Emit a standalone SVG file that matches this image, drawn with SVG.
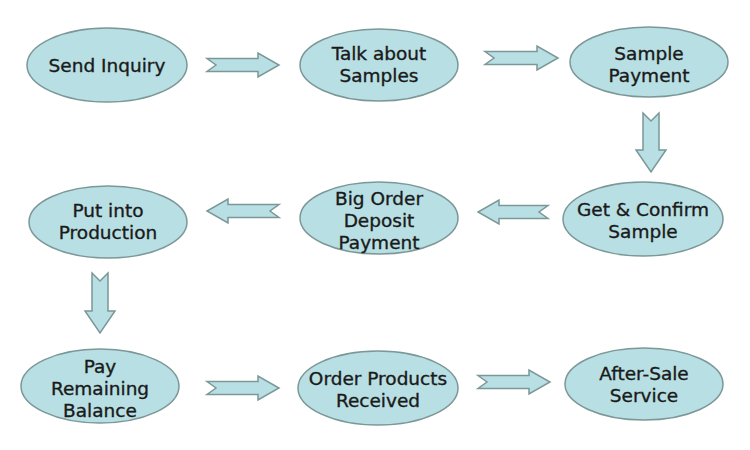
<svg xmlns="http://www.w3.org/2000/svg" width="750" height="450" viewBox="0 0 750 450">
<style>
.n ellipse{fill:#b8dfe3;stroke:#7b9797;stroke-width:1.5}
.n text{font-family:"DejaVu Sans",Verdana,sans-serif;font-size:18.5px;fill:#1a1a1a;stroke:#1a1a1a;stroke-width:0.35;text-anchor:middle}
.a path{fill:#b8dfe3;stroke:#7b9797;stroke-width:1.5;stroke-linejoin:miter}
</style>
<rect width="750" height="450" fill="#fff"/>
<g id="connectors" class="a">
<path d="M207,58.5 L258,58.5 L258,53 L279,65 L258,77 L258,71.5 L207,71.5 L216,65 Z"/>
<path d="M485,51.5 L537,51.5 L537,46 L558,58 L537,70 L537,64.5 L485,64.5 L494,58 Z"/>
<path d="M643,113 L643,150 L636,150 L651,172 L666,150 L659,150 L659,113 L651,121 Z"/>
<path d="M548,205.5 L499,205.5 L499,200 L478,212 L499,224 L499,218.5 L548,218.5 L539,212 Z"/>
<path d="M279,204.5 L228,204.5 L228,199 L207,211 L228,223 L228,217.5 L279,217.5 L270,211 Z"/>
<path d="M92,273 L92,311 L85,311 L100,333 L115,311 L108,311 L108,273 L100,281 Z"/>
<path d="M207,381.5 L258,381.5 L258,376 L279,388 L258,400 L258,394.5 L207,394.5 L216,388 Z"/>
<path d="M478,375.5 L529,375.5 L529,370 L550,382 L529,394 L529,388.5 L478,388.5 L487,382 Z"/>
</g>
<g id="n1" class="n"><ellipse cx="107" cy="65" rx="80" ry="37"/><text x="107" y="72">Send Inquiry</text></g>
<g id="n2" class="n"><ellipse cx="379" cy="65" rx="79" ry="36"/><text x="379" y="60">Talk about</text><text x="379" y="82">Samples</text></g>
<g id="n3" class="n"><ellipse cx="649" cy="62" rx="79" ry="35"/><text x="649" y="60">Sample</text><text x="649" y="82">Payment</text></g>
<g id="n4" class="n"><ellipse cx="643" cy="219" rx="80" ry="37"/><text x="643" y="216">Get &amp; Confirm</text><text x="643" y="238">Sample</text></g>
<g id="n5" class="n"><ellipse cx="379" cy="218" rx="79" ry="36"/><text x="379" y="205">Big Order</text><text x="379" y="227">Deposit</text><text x="379" y="249">Payment</text></g>
<g id="n6" class="n"><ellipse cx="108" cy="222" rx="79" ry="36"/><text x="108" y="217">Put into</text><text x="108" y="239">Production</text></g>
<g id="n7" class="n"><ellipse cx="100" cy="386" rx="79" ry="37"/><text x="100" y="373">Pay</text><text x="100" y="395">Remaining</text><text x="100" y="417">Balance</text></g>
<g id="n8" class="n"><ellipse cx="378" cy="388" rx="80" ry="37"/><text x="378" y="385">Order Products</text><text x="378" y="407">Received</text></g>
<g id="n9" class="n"><ellipse cx="644" cy="384" rx="79" ry="36"/><text x="644" y="380">After-Sale</text><text x="644" y="402">Service</text></g>
</svg>
